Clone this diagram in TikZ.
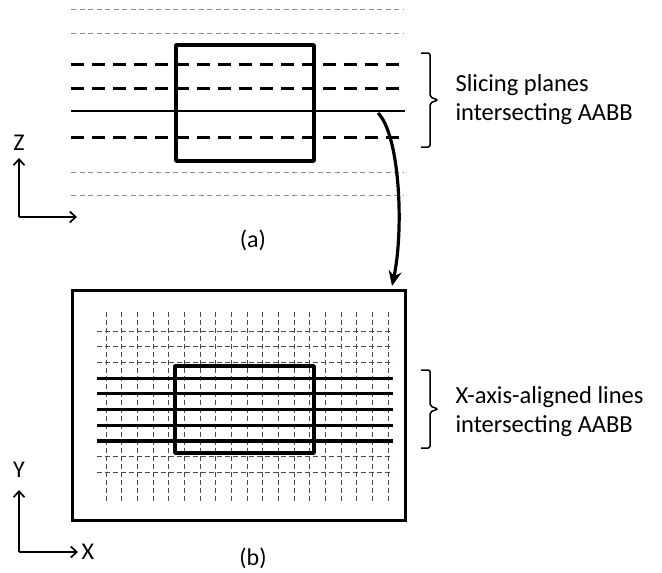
\documentclass[tikz,border=0pt]{standalone}
\usepackage{fontspec}
\setmainfont{Carlito}
\usetikzlibrary{arrows.meta}

\tikzset{
  aabb/.style={line width=3.6pt, line join=round},
  plane/.style={line width=3pt, dash pattern=on 13pt off 8pt},
  cutplane/.style={line width=2pt},
  faint/.style={black!45, line width=0.8pt, dash pattern=on 5pt off 3.5pt},
  gridline/.style={black!70, line width=0.8pt, dash pattern=on 5pt off 3pt},
  xline/.style={line width=3.2pt},
  axis/.style={line width=1.7pt, -{Straight Barb[length=6pt,width=11pt]}},
  label/.style={font=\fontsize{24.5}{29}\selectfont, align=left, anchor=west},
  caption/.style={font=\fontsize{24}{29}\selectfont},
  bracket/.style={line width=1.5pt, rounded corners=2pt}
}

\begin{document}
\begin{tikzpicture}[x=1pt,y=-1pt]
\useasboundingbox (0,0) rectangle (662,573);

% (a) slicing planes
\foreach \y in {9,33,172,195}
  \draw[faint] (71,\y) -- (403,\y);
\foreach \y in {64,88,137}
  \draw[plane] (71,\y) -- (405,\y);
\draw[cutplane] (71,111) -- (405,111);
\coordinate (cut) at (378,113);
\draw[aabb] (176,45) rectangle (314,161);

\draw[bracket] (421,53) -- (430,53) -- (430,97) -- (438,100) -- (430,103) -- (430,147) -- (421,147);
\node[label] (slab) at (452,100) {Slicing planes\\intersecting AABB};

\coordinate (za) at (19,217);
\draw[axis] (za) -- (19,158);
\draw[axis] (za) -- (77,217);
\node[caption] (zlab) at (19,143) {Z};
\node[caption] (capa) at (253,240) {(a)};

% (b) grid with lines
\draw[aabb, line width=3pt, line join=miter] (72,290) rectangle (405,520);
\coordinate (top) at (392,286);
\foreach \i in {0,...,18}
  \draw[gridline] (106+15.67*\i,312) -- (106+15.67*\i,503);
\foreach \i in {0,1,2,7,8,9}
  \draw[gridline] (97,331+15.7*\i) -- (393,331+15.7*\i);
\foreach \i in {3,...,7}
  \draw[xline] (97,331+15.7*\i) -- (393,331+15.7*\i);
\draw[aabb] (175,366) rectangle (314,453);

\draw[bracket] (421,370) -- (430,370) -- (430,406) -- (438,409) -- (430,412) -- (430,448) -- (421,448);
\node[label] (xlab) at (452,412) {X-axis-aligned lines\\intersecting AABB};

\coordinate (xa) at (19,552);
\draw[axis] (xa) -- (19,490);
\draw[axis] (xa) -- (78,552);
\node[caption] (ylab) at (19,470) {Y};
\node[caption, anchor=west] (xlab2) at (78,552) {X};
\node[caption] (capb) at (253,558) {(b)};

% connector
\draw[line width=3.2pt, -{Stealth[length=15pt,width=13pt]}] (cut) .. controls (400,135) and (404,230) .. (top);
\end{tikzpicture}
\end{document}
